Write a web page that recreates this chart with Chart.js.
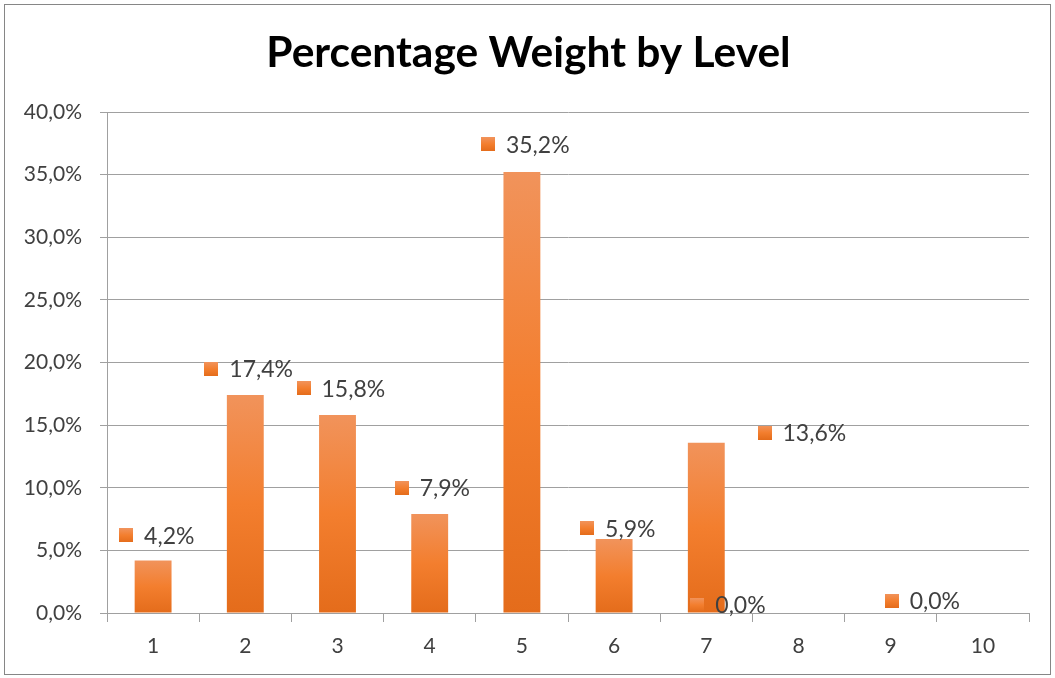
<!DOCTYPE html>
<html>
<head>
<meta charset="utf-8">
<script src="https://cdn.jsdelivr.net/npm/chart.js@4/dist/chart.umd.min.js"></script>
<style>
  html, body { margin: 0; padding: 0; background: #ffffff; }
  #wrap { width: 1055px; height: 678px; }
</style>
</head>
<body>
<div id="wrap"><canvas id="c" width="1055" height="678"></canvas></div>
<script>
// Levels on the x axis and the share of total weight at each level (%)
const categories = ['1', '2', '3', '4', '5', '6', '7', '8', '9', '10'];
const weights = [4.2, 17.4, 15.8, 7.9, 35.2, 5.9, 13.6, 0.0, 0.0, null];
const chartTitle = 'Percentage Weight by Level';

// Category slot in which each value label sits, and its pixel nudge [dx, dy]
const labelSlot = [0, 1, 2, 3, 4, 5, 7, 6, 8, null];
const labelNudge = [[-27, -25], [-34, -26], [-34, -27], [-28, -26], [-34, -28],
                    [-27, -11], [-34, -10], [-9, -8], [1, -12], null];

const FONT = 'Lato, "Open Sans", "DejaVu Sans", sans-serif';
const TEXT = '#404040';
const GRID = '#A0A0A0';

function orangeGradient(ctx, top, bottom) {
  const g = ctx.createLinearGradient(0, top, 0, bottom);
  g.addColorStop(0, '#F1935B');
  g.addColorStop(0.5, '#F37E2E');
  g.addColorStop(1, '#E46C1B');
  return g;
}

// White background, frame around the whole chart and the centred title
const framePlugin = {
  id: 'frame',
  beforeDraw(chart) {
    const ctx = chart.ctx;
    ctx.save();
    ctx.fillStyle = '#ffffff';
    ctx.fillRect(0, 0, chart.width, chart.height);
    ctx.strokeStyle = '#868686';
    ctx.lineWidth = 1;
    ctx.strokeRect(4.5, 4.5, chart.width - 9, chart.height - 8);
    ctx.fillStyle = '#000000';
    ctx.font = 'bold 42.5px ' + FONT;
    ctx.textAlign = 'center';
    ctx.textBaseline = 'middle';
    ctx.fillText(chartTitle, chart.width / 2 + 1, 53);
    ctx.restore();
  }
};

// Value labels with a small colour key square in front of each
const valueLabels = {
  id: 'valueLabels',
  afterDatasetsDraw(chart) {
    const ctx = chart.ctx;
    const xs = chart.scales.x, ys = chart.scales.y;
    ctx.save();
    ctx.font = '23px ' + FONT;
    ctx.textBaseline = 'middle';
    ctx.textAlign = 'left';
    weights.forEach((v, i) => {
      if (v === null || labelSlot[i] === null) return;
      const cx = xs.getPixelForValue(labelSlot[i]) + labelNudge[i][0];
      const cy = ys.getPixelForValue(v) + labelNudge[i][1];
      const s = 14;
      ctx.fillStyle = orangeGradient(ctx, cy - s / 2, cy + s / 2);
      ctx.fillRect(Math.round(cx - s / 2), Math.round(cy - s / 2), s, s);
      ctx.fillStyle = TEXT;
      ctx.fillText(v.toFixed(1).replace('.', ',') + '%', cx + s / 2 + 11, cy + 1);
    });
    ctx.restore();
  }
};

new Chart(document.getElementById('c'), {
  type: 'bar',
  data: {
    labels: categories,
    datasets: [{
      label: 'Weight',
      data: weights,
      categoryPercentage: 1.0,
      barPercentage: 0.4,
      borderWidth: 0,
      backgroundColor(context) {
        const chart = context.chart;
        const v = context.raw;
        if (!chart.chartArea || v === null || v === undefined) return '#F37E2E';
        const ys = chart.scales.y;
        return orangeGradient(chart.ctx, ys.getPixelForValue(v), ys.getPixelForValue(0));
      }
    }]
  },
  options: {
    responsive: false,
    animation: false,
    layout: { padding: { left: 0, right: 26, top: 112, bottom: 0 } },
    plugins: {
      legend: { display: false },
      tooltip: { enabled: false },
      title: { display: false }
    },
    scales: {
      x: {
        grid: {
          display: true, drawOnChartArea: false, drawTicks: true,
          tickLength: 9, color: GRID, offset: true
        },
        border: { display: true, color: GRID, width: 1 },
        ticks: { color: TEXT, font: { family: FONT, size: 21 }, padding: 12, maxRotation: 0 },
        afterFit(scale) { scale.height = 65; }
      },
      y: {
        min: 0, max: 40,
        grid: { color: GRID, tickLength: 7, lineWidth: 1 },
        border: { display: true, color: GRID, width: 1 },
        ticks: {
          stepSize: 5,
          color: TEXT,
          font: { family: FONT, size: 21 },
          padding: 18,
          callback: (v) => Number(v).toFixed(1).replace('.', ',') + '%'
        },
        afterFit(scale) { scale.width = 107; }
      }
    }
  },
  plugins: [framePlugin, valueLabels]
});
</script>
</body>
</html>
